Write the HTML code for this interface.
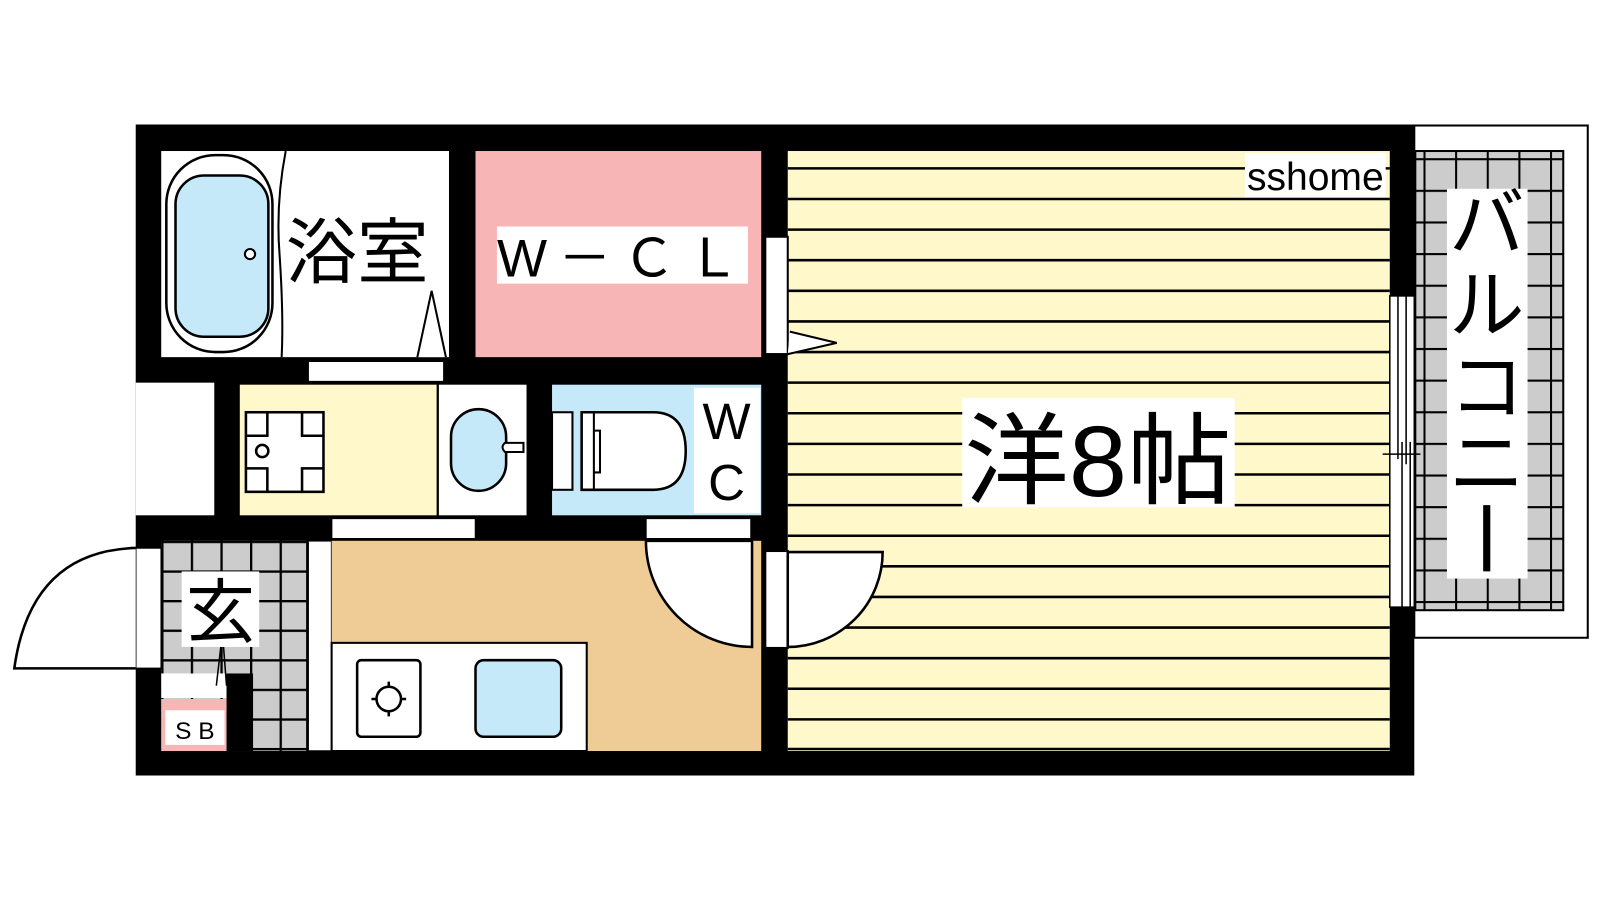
<!DOCTYPE html>
<html><head><meta charset="utf-8"><style>
html,body{margin:0;padding:0;background:#fff;width:1600px;height:900px;overflow:hidden}
svg{display:block}
text{font-family:"Liberation Sans","Noto Sans CJK JP",sans-serif;fill:#000}
</style></head><body>
<svg width="1600" height="900" viewBox="0 0 1568 882" preserveAspectRatio="none" xmlns="http://www.w3.org/2000/svg">
<defs>
<pattern id="tile" x="0" y="0" width="31" height="31" patternUnits="userSpaceOnUse">
<rect width="31" height="31" fill="#cccccc"/><path d="M0 0.5H31M0.5 0V31" stroke="#000" stroke-width="3"/>
</pattern>
<pattern id="tile2" x="158" y="530" width="29" height="29" patternUnits="userSpaceOnUse">
<rect width="29" height="29" fill="#cccccc"/><path d="M0 1H29M1 0V29" stroke="#000" stroke-width="2.5"/>
</pattern>
</defs>
<!-- balcony -->
<rect x="1386" y="123" width="170" height="502" fill="#fff" stroke="#000" stroke-width="2"/>
<rect x="1387" y="148" width="145" height="450" fill="url(#tile)" stroke="#000" stroke-width="2"/>
<rect x="1418" y="185" width="79" height="382" fill="#fff"/>
<text x="1457" y="245" font-size="74" text-anchor="middle">バ</text>
<text x="1457" y="325" font-size="74" text-anchor="middle">ル</text>
<text x="1457" y="405" font-size="74" text-anchor="middle">コ</text>
<text x="1457" y="480" font-size="74" text-anchor="middle">ニ</text>
<path d="M1457 495V560" stroke="#000" stroke-width="7"/>
<!-- outer walls -->
<rect x="133" y="122" width="1253" height="638" fill="#000"/>
<rect x="133" y="375" width="77" height="130" fill="#fff"/>
<!-- bath -->
<rect x="158" y="148" width="282" height="202" fill="#fff"/>
<rect x="163" y="152" width="104" height="193" rx="48" fill="#fff" stroke="#000" stroke-width="2.5"/>
<rect x="172" y="172" width="91" height="158" rx="28" fill="#c5e9f8" stroke="#000" stroke-width="2.5"/>
<circle cx="245" cy="249" r="5" fill="#fff" stroke="#000" stroke-width="2"/>
<path d="M280 148 Q 270 200 274 250 Q 278 310 276 350" fill="none" stroke="#000" stroke-width="2"/>
<path d="M409 350 L423 285 L437 350" fill="#fff" stroke="#000" stroke-width="2"/>
<text x="280" y="272" font-size="70">浴室</text>
<rect x="302" y="354" width="133" height="20" fill="#fff" stroke="#000" stroke-width="1.5"/>
<!-- WCL -->
<rect x="466" y="148" width="280" height="202" fill="#f8b5b6"/>
<rect x="487" y="222" width="246" height="56" fill="#fff"/>
<text x="487" y="271" font-size="52" textLength="238" lengthAdjust="spacing">W－ＣＬ</text>
<!-- main room -->
<rect x="772" y="148" width="590" height="588" fill="#fef8cb"/>
<g stroke="#000" stroke-width="2.5">
<path d="M772 165H1362M772 195H1362M772 225H1362M772 255H1362M772 285H1362M772 315H1362M772 345H1362M772 375H1362M772 405H1362M772 435H1362M772 465H1362M772 495H1362M772 525H1362M772 555H1362M772 585H1362M772 615H1362M772 645H1362M772 675H1362M772 705H1362M772 734H1362"/>
</g>
<rect x="750" y="232" width="22" height="115" fill="#fff" stroke="#000" stroke-width="2"/>
<path d="M774 325 L820 336 L772 347" fill="#fff" stroke="#000" stroke-width="2"/>
<rect x="1220" y="150" width="138" height="43" fill="#fff"/>
<text x="1222" y="186" font-size="38" textLength="134" lengthAdjust="spacingAndGlyphs">sshome</text>
<rect x="943" y="390" width="267" height="107" fill="#fff"/>
<text x="945" y="486" font-size="98" textLength="262" lengthAdjust="spacingAndGlyphs">洋8帖</text>
<!-- right window -->
<rect x="1362" y="290" width="24" height="305" fill="#fff" stroke="#000" stroke-width="1.5"/>
<path d="M1370 290V450M1378 290V455M1374 433V595M1382 433V595M1355 445H1392" stroke="#000" stroke-width="1.5"/>
<!-- washroom -->
<rect x="235" y="377" width="193" height="128" fill="#fef8cb"/>
<rect x="430" y="377" width="86" height="128" fill="#fff"/>
<path d="M429 377V505" stroke="#000" stroke-width="2"/>
<rect x="241" y="404" width="76" height="78" fill="#fff" stroke="#000" stroke-width="2.5"/>
<path d="M241 427H262V404M296 404V427H317M241 459H262V482M296 482V459H317" fill="none" stroke="#000" stroke-width="2.5"/>
<circle cx="257" cy="442" r="6" fill="#fff" stroke="#000" stroke-width="2.5"/>
<rect x="442" y="401" width="54" height="80" rx="27" fill="#c5e9f8" stroke="#000" stroke-width="2.5"/>
<path d="M495 434H513V443H495Q490 438 495 434Z" fill="#fff" stroke="#000" stroke-width="2"/>
<!-- WC -->
<rect x="541" y="377" width="205" height="128" fill="#c5e9f8"/>
<rect x="541" y="404" width="20" height="76" fill="#fff" stroke="#000" stroke-width="2"/>
<path d="M570 404H640Q672 404 672 442Q672 480 640 480H570Z" fill="#fff" stroke="#000" stroke-width="2.5"/>
<path d="M582 404V480M570 404V480" stroke="#000" stroke-width="2"/>
<path d="M582 422H588V463H582" fill="none" stroke="#000" stroke-width="2"/>
<rect x="680" y="380" width="65" height="123" fill="#fff"/>
<text x="712" y="430" font-size="50" text-anchor="middle">W</text>
<text x="712" y="490" font-size="50" text-anchor="middle">C</text>
<!-- openings in wall y505-530 -->
<rect x="325" y="508" width="141" height="20" fill="#fff" stroke="#000" stroke-width="1.5"/>
<rect x="633" y="508" width="103" height="20" fill="#fff" stroke="#000" stroke-width="1.5"/>
<!-- entrance -->
<rect x="158" y="530" width="142" height="206" fill="url(#tile2)"/>
<rect x="158" y="660" width="64" height="24" fill="#fff"/>
<rect x="222" y="660" width="26" height="76" fill="#000"/>
<rect x="158" y="685" width="64" height="51" fill="#f8b5b6"/>
<rect x="162" y="696" width="58" height="34" fill="#fff"/>
<text x="191" y="724" font-size="24" text-anchor="middle">S B</text>
<path d="M218 620L212 672M218 620L222 672" stroke="#000" stroke-width="1.5"/>
<rect x="178" y="560" width="76" height="74" fill="#fff"/>
<text x="216" y="624" font-size="68" text-anchor="middle">玄</text>
<rect x="133" y="537" width="25" height="118" fill="#fff" stroke="#000" stroke-width="1.5"/>
<path d="M133 537 Q30 540 14 655 H133" fill="#fff" stroke="#000" stroke-width="2.5"/>
<!-- kitchen -->
<rect x="302" y="530" width="23" height="206" fill="#fff" stroke="#000" stroke-width="1.5"/>
<rect x="325" y="530" width="421" height="206" fill="#efcb96"/>
<rect x="325" y="630" width="250" height="106" fill="#fff" stroke="#000" stroke-width="2"/>
<rect x="350" y="647" width="62" height="75" rx="4" fill="#fff" stroke="#000" stroke-width="2.5"/>
<circle cx="381" cy="685" r="12" fill="none" stroke="#000" stroke-width="2.5"/>
<path d="M381 668V673M381 697V702M364 685H369M393 685H398" stroke="#000" stroke-width="2.5"/>
<rect x="466" y="647" width="84" height="75" rx="8" fill="#c5e9f8" stroke="#000" stroke-width="2.5"/>
<!-- doors -->
<path d="M633 530 A104 104 0 0 0 737 634 V530 Z" fill="#fff" stroke="#000" stroke-width="2.5"/>
<rect x="750" y="540" width="22" height="95" fill="#fff" stroke="#000" stroke-width="2"/>
<path d="M772 541 H865 A93 93 0 0 1 772 634 Z" fill="#fff" stroke="#000" stroke-width="2.5"/>
</svg>
</body></html>
